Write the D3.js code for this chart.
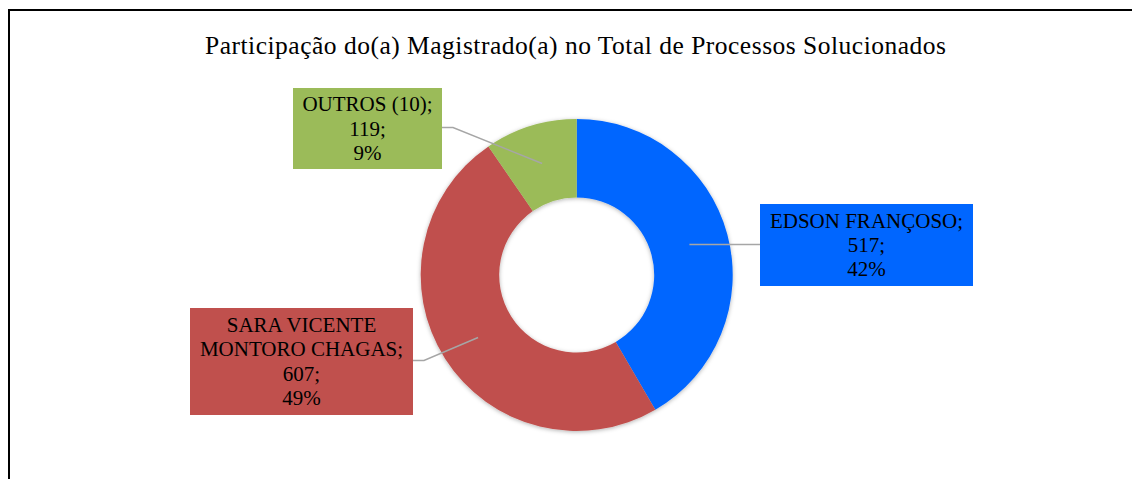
<!DOCTYPE html>
<html>
<head>
<meta charset="utf-8">
<script src="https://cdn.jsdelivr.net/npm/d3@7"></script>
<style>
  body { margin: 0; background: #fff; }
</style>
</head>
<body>
<svg id="chart" width="1132" height="479" font-family="'Liberation Serif', 'Times New Roman', serif"></svg>
<script>
// data
var names = ["EDSON FRANÇOSO;", "SARA VICENTE|MONTORO CHAGAS;", "OUTROS (10);"];
var values = [517, 607, 119];
var pctLabels = ["42%", "49%", "9%"];
var colors = ["#0066FF", "#C0504D", "#9BBB59"];
var title = "Participação do(a) Magistrado(a) no Total de Processos Solucionados";

// label box placement (x, y, w, h)
var boxes = [
  {x: 760, y: 204, w: 213, h: 82, side: "left"},
  {x: 190, y: 308, w: 223, h: 107, side: "right"},
  {x: 293, y: 88, w: 149, h: 81, side: "right"}
];

var svg = d3.select("#chart"),
    width = +svg.attr("width"),
    height = +svg.attr("height");

var cx = 576.7, cy = 275,
    outerR = 156, innerR = 77.5;

var ff = "'Liberation Serif', 'Times New Roman', serif";

// frame
svg.append("line").attr("x1", 8).attr("x2", width).attr("y1", 10).attr("y2", 10)
    .attr("stroke", "#000").attr("stroke-width", 2);
svg.append("line").attr("x1", 9).attr("x2", 9).attr("y1", 9).attr("y2", height)
    .attr("stroke", "#000").attr("stroke-width", 2);

svg.append("text")
    .attr("x", 205).attr("y", 54)
    .attr("font-family", ff)
    .attr("font-size", 25.5)
    .attr("textLength", 741)
    .attr("lengthAdjust", "spacing")
    .attr("fill", "#000")
    .text(title);

var defs = svg.append("defs");
var f = defs.append("filter").attr("id", "shadow")
    .attr("x", "-20%").attr("y", "-20%").attr("width", "140%").attr("height", "140%");
f.append("feDropShadow").attr("dx", 0).attr("dy", 1).attr("stdDeviation", 2)
    .attr("flood-color", "#000").attr("flood-opacity", 0.3);

var pie = d3.pie().sort(null).value(function(d) { return d; });
var arcs = pie(values);

var arc = d3.arc().innerRadius(innerR).outerRadius(outerR);
var midArc = d3.arc().innerRadius((innerR + outerR) / 2).outerRadius((innerR + outerR) / 2);

var g = svg.append("g").attr("transform", "translate(" + cx + "," + cy + ")");

g.append("g").attr("filter", "url(#shadow)")
  .selectAll("path")
  .data(arcs)
  .enter().append("path")
    .attr("d", arc)
    .attr("fill", function(d, i) { return colors[i]; });

// leader lines
arcs.forEach(function(d, i) {
  var c = midArc.centroid(d);
  var px = cx + c[0], py = cy + c[1];
  var b = boxes[i];
  var ey = b.y + b.h / 2 - 1;
  var pts;
  if (b.side === "left") {
    pts = [[px, py], [b.x, py]];
  } else {
    var bx = b.x + b.w;
    pts = [[px, py], [bx + 11, ey], [bx, ey]];
  }
  svg.append("path")
    .attr("d", d3.line()(pts))
    .attr("fill", "none")
    .attr("stroke", "#A6A6A6")
    .attr("stroke-width", 1.5);
});

// label boxes
var lab = svg.append("g").selectAll("g")
  .data(arcs)
  .enter().append("g");

lab.append("rect")
    .attr("x", function(d, i) { return boxes[i].x; })
    .attr("y", function(d, i) { return boxes[i].y; })
    .attr("width", function(d, i) { return boxes[i].w; })
    .attr("height", function(d, i) { return boxes[i].h; })
    .attr("fill", function(d, i) { return colors[i]; });

lab.each(function(d, i) {
  var lines = names[i].split("|").concat([values[i] + ";", pctLabels[i]]);
  var b = boxes[i];
  var lh = 24.3;
  var y0 = b.y + b.h / 2 - (lines.length - 1) * lh / 2 + 7;
  var t = d3.select(this).append("text")
      .attr("text-anchor", "middle")
      .attr("font-family", ff)
      .attr("font-size", 21)
      .attr("fill", "#000");
  lines.forEach(function(s, k) {
    t.append("tspan")
      .attr("x", b.x + b.w / 2)
      .attr("y", y0 + k * lh)
      .text(s);
  });
});
</script>
</body>
</html>
